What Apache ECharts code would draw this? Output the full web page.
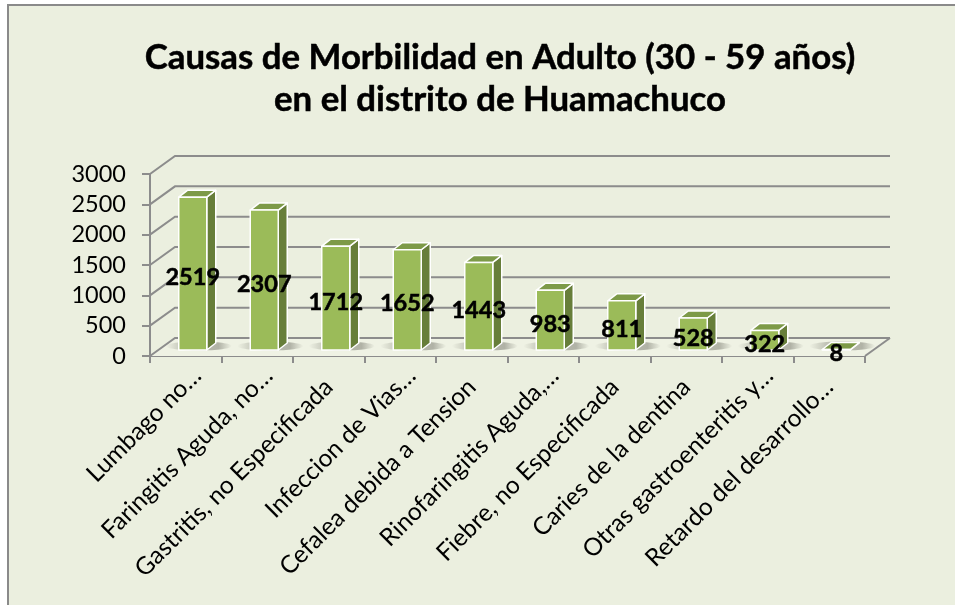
<!DOCTYPE html>
<html><head><meta charset="utf-8">
<style>html,body{margin:0;padding:0;background:#fff}#c{width:955px;height:605px}</style>
<script src="https://cdn.jsdelivr.net/npm/echarts@6/dist/echarts.min.js"></script>
</head><body><div id="c"></div>
<script>
const titleText = 'Causas de Morbilidad en Adulto (30 - 59 años)\nen el distrito de Huamachuco';
const categories = ['Lumbago no…','Faringitis Aguda, no…','Gastritis, no Especificada','Infeccion de Vias…','Cefalea debida a Tension','Rinofaringitis Aguda,…','Fiebre, no Especificada','Caries de la dentina','Otras gastroenteritis y…','Retardo del desarrollo…'];
const values = [2519,2307,1712,1652,1443,983,811,528,322,8];
const yTicks = [0,500,1000,1500,2000,2500,3000];

const FONT = 'Lato';
const WALL_DX = 25, WALL_DY = -18;
const BAR_DX = 7, BAR_DY = -6, BAR_W = 28, SIDE_DX = 9, SIDE_DY = -7;
const GRID = '#8c8c8c';

const chart = echarts.init(document.getElementById('c'), null, {renderer:'canvas'});
chart.setOption({
  animation:false,
  backgroundColor:'#fff',
  graphic:[{type:'rect',z:-10,silent:true,shape:{x:8,y:5,width:960,height:620},
    style:{fill:'#EBEFDF',stroke:'#8a8a8a',lineWidth:2}}],
  title:{text:titleText,left:495,top:32,textAlign:'center',
    textStyle:{fontFamily:FONT,fontWeight:'bold',fontSize:34.8,lineHeight:42,color:'#000',textBorderColor:'#000',textBorderWidth:0.5}},
  grid:{left:150,right:90,top:174,bottom:249,containLabel:false},
  xAxis:{type:'category',
    data:categories.map(c=>c.endsWith('…')&&!c.startsWith('Retardo')?{value:c,textStyle:{padding:[32,-16,0,0]}}:c),
    boundaryGap:true,
    axisLine:{show:true,lineStyle:{color:GRID,width:2}},
    axisTick:{show:true,length:7,alignWithLabel:false,lineStyle:{color:GRID,width:2}},
    axisLabel:{interval:0,rotate:45,margin:27,fontFamily:FONT,fontSize:24.5,color:'#000'},
    splitLine:{show:false}},
  yAxis:{type:'value',min:0,max:3000,interval:500,
    axisLine:{show:true,lineStyle:{color:GRID,width:2}},
    axisTick:{show:true,length:8,lineStyle:{color:GRID,width:2}},
    axisLabel:{margin:24,fontFamily:FONT,fontSize:23.5,color:'#000',padding:[4,0,0,0],formatter:v=>String(v)},
    splitLine:{show:false}},
  series:[
    {type:'custom',coordinateSystem:'cartesian2d',silent:true,z:1,
     data:yTicks.map(v=>[0,v]),encode:{x:0,y:1},clip:false,
     renderItem(params,api){
       const cs=params.coordSys, y=api.coord([0,api.value(1)])[1];
       const x0=cs.x, x1=cs.x+cs.width, kids=[];
       if(api.value(1)===0){
         kids.push({type:'polygon',shape:{points:[[x0,y],[x0+WALL_DX,y+WALL_DY],[x1+WALL_DX,y+WALL_DY],[x1,y]]},
           style:{fill:'#EFF2E4',stroke:null}});
         kids.push({type:'line',shape:{x1:x1,y1:y,x2:x1+WALL_DX,y2:y+WALL_DY},style:{stroke:GRID,lineWidth:2}});
       }
       kids.push({type:'polyline',shape:{points:[[x0,y],[x0+WALL_DX,y+WALL_DY],[x1+WALL_DX,y+WALL_DY]]},
         style:{stroke:GRID,lineWidth:2,fill:null}});
       return {type:'group',children:kids};
     }},
    {type:'custom',coordinateSystem:'cartesian2d',silent:true,z:3,clip:false,
     data:values.map((v,i)=>[i,v]),encode:{x:0,y:1},
     renderItem(params,api){
       const p=api.coord([api.value(0),api.value(1)]), b=api.coord([api.value(0),0]);
       const cx=b[0]+BAR_DX, l=cx-BAR_W/2, r=cx+BAR_W/2, bot=b[1]+BAR_DY, top=p[1]+BAR_DY;
       const white={stroke:'#fff',lineWidth:1.5,lineJoin:'round'};
       return {type:'group',children:[
         {type:'ellipse',shape:{cx:cx+6,cy:bot-4,rx:33,ry:4.5},
          style:{fill:{type:'linear',x:0,y:0,x2:1,y2:0,colorStops:[{offset:0,color:'rgba(90,90,80,0)'},{offset:.25,color:'rgba(90,90,80,.3)'},{offset:.8,color:'rgba(90,90,80,.42)'},{offset:1,color:'rgba(90,90,80,0)'}]}}},
         {type:'polygon',shape:{points:[[r,top],[r+SIDE_DX,top+SIDE_DY],[r+SIDE_DX,bot+SIDE_DY],[r,bot]]},style:{fill:'#677E3A',...white}},
         {type:'polygon',shape:{points:[[l,top],[l+SIDE_DX,top+SIDE_DY],[r+SIDE_DX,top+SIDE_DY],[r,top]]},style:{fill:'#7D9A48',...white}},
         {type:'rect',shape:{x:l,y:top,width:BAR_W,height:bot-top},style:{fill:'#9BBB59',...white}},
         {type:'text',z2:50,style:{x:cx,y:(top+bot)/2+4,text:String(api.value(1)),align:'center',verticalAlign:'middle',
           fontFamily:FONT,fontWeight:'bold',fontSize:23.5,fill:'#000',stroke:'#000',lineWidth:0.5}}
       ]};
     }}
  ]
});
</script></body></html>
